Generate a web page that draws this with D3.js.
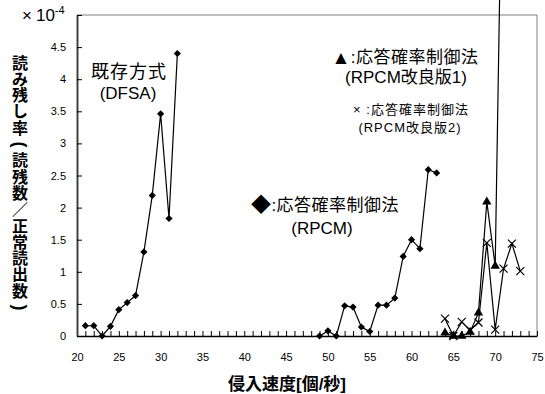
<!DOCTYPE html>
<html>
<head>
<meta charset="utf-8">
<script src="https://cdn.jsdelivr.net/npm/d3@7"></script>
<style>
  body { margin: 0; background: #fff; }
  svg { display: block; font-family: "Liberation Sans", "Noto Sans CJK JP", sans-serif; }
</style>
</head>
<body>
<svg id="chart"></svg>
<script>
// Read-out rate (x 10^-4) against intrusion speed
const dfsaSpeed = [21, 22, 23, 24, 25, 26, 27, 28, 29, 30, 31, 32];
const dfsaRate = [0.16, 0.16, 0, 0.15, 0.41, 0.52, 0.63, 1.31, 2.19, 3.46, 1.83, 4.40];

const rpcmSpeed = [49, 50, 51, 52, 53, 54, 55, 56, 57, 58, 59, 60, 61, 62, 63];
const rpcmRate = [0, 0.08, 0, 0.47, 0.45, 0.14, 0.07, 0.48, 0.48, 0.59, 1.24, 1.50, 1.36, 2.59, 2.54];

const v1Speed = [64, 65, 66, 67, 68, 69, 70, 71];
const v1Rate = [0.05, 0, 0, 0.06, 0.36, 2.09, 1.09, 9.0];

const v2Speed = [64, 65, 66, 67, 68, 69, 70, 71, 72, 73];
const v2Rate = [0.27, 0, 0.22, 0.09, 0.21, 1.45, 0.10, 1.05, 1.44, 1.01];

const xTickLabels = [20, 25, 30, 35, 40, 45, 50, 55, 60, 65, 70, 75];
const yTickLabels = [0, 0.5, 1, 1.5, 2, 2.5, 3, 3.5, 4, 4.5];

const yTitle = ["読", "み", "残", "し", "率", "(", "読", "残", "数", "／", "正", "常", "読", "出", "数", ")"];

class LineChart {
  constructor(_config) {
    this.config = {
      parentElement: _config.parentElement,
      containerWidth: _config.containerWidth || 545,
      containerHeight: _config.containerHeight || 394,
      margin: _config.margin || { top: 15, right: 8, bottom: 58, left: 77 },
    };
    this.initVis();
  }

  initVis() {
    let vis = this;
    const m = vis.config.margin;
    vis.width = vis.config.containerWidth - m.left - m.right;
    vis.height = vis.config.containerHeight - m.top - m.bottom;

    vis.svg = d3.select(vis.config.parentElement)
      .attr("width", vis.config.containerWidth)
      .attr("height", vis.config.containerHeight);

    vis.xScale = d3.scaleLinear().domain([20, 75]).range([0, vis.width]);
    vis.yScale = d3.scaleLinear().domain([0, 5]).range([vis.height, 0]);

    vis.chart = vis.svg.append("g")
      .attr("transform", `translate(${m.left},${m.top})`);

    // plot frame (top and right in grey)
    vis.chart.append("path")
      .attr("d", `M0,0H${vis.width}V${vis.height}`)
      .attr("fill", "none")
      .attr("stroke", "#808080")
      .attr("stroke-width", 1);
  }

  renderVis() {
    let vis = this;

    // x axis: a tick every unit, labels every 5
    const xAxis = d3.axisBottom(vis.xScale)
      .tickValues(d3.range(20, 76, 1))
      .tickSizeInner(-5)
      .tickSizeOuter(0)
      .tickPadding(17)
      .tickFormat(d => xTickLabels.includes(d) ? d : "");

    const xAxisG = vis.chart.append("g")
      .attr("transform", `translate(0,${vis.height})`)
      .call(xAxis);
    xAxisG.select(".domain").attr("stroke", "#000").attr("stroke-width", 1.5);
    xAxisG.selectAll(".tick line").attr("stroke", "#000");
    xAxisG.selectAll("text")
      .style("font-size", "11px")
      .attr("fill", "#000");

    const yAxis = d3.axisLeft(vis.yScale)
      .tickValues(yTickLabels.concat([5]))
      .tickSizeInner(-5)
      .tickSizeOuter(0)
      .tickPadding(11)
      .tickFormat(d => d === 5 ? "" : d);

    const yAxisG = vis.chart.append("g").call(yAxis);
    yAxisG.select(".domain").attr("stroke", "#404040").attr("stroke-width", 2);
    yAxisG.selectAll(".tick line").attr("stroke", "#000");
    yAxisG.selectAll("text")
      .style("font-size", "11px")
      .attr("fill", "#000");

    // exponent label at the top
    const expo = vis.svg.append("text")
      .attr("x", 22)
      .attr("y", 21)
      .style("font-size", "17px")
      .attr("fill", "#000");
    expo.append("tspan").text("×");
    expo.append("tspan").attr("dx", 4).text("10");
    expo.append("tspan").attr("dy", -7).style("font-size", "11px").text("-4");

    // series lines
    const line = d3.line()
      .x(d => vis.xScale(d[0]))
      .y(d => vis.yScale(d[1]));

    const series = [
      { speed: dfsaSpeed, rate: dfsaRate, marker: "diamond" },
      { speed: rpcmSpeed, rate: rpcmRate, marker: "diamond" },
      { speed: v1Speed, rate: v1Rate, marker: "triangle" },
      { speed: v2Speed, rate: v2Rate, marker: "cross" },
    ];

    series.forEach(s => {
      const pts = s.speed.map((x, i) => [x, s.rate[i]]);
      vis.chart.append("path")
        .attr("d", line(pts))
        .attr("fill", "none")
        .attr("stroke", "#000")
        .attr("stroke-width", 1.2);

      const g = vis.chart.append("g");
      pts.forEach(p => {
        const cx = vis.xScale(p[0]);
        const cy = vis.yScale(p[1]);
        if (s.marker === "diamond") {
          g.append("path")
            .attr("d", d3.symbol().type(d3.symbolSquare).size(26)())
            .attr("transform", `translate(${cx},${cy}) rotate(45)`)
            .attr("fill", "#000");
        } else if (s.marker === "triangle") {
          g.append("path")
            .attr("d", d3.symbol().type(d3.symbolTriangle).size(38)())
            .attr("transform", `translate(${cx},${cy})`)
            .attr("fill", "#000");
        } else {
          g.append("path")
            .attr("d", "M-4,-4L4,4M-4,4L4,-4")
            .attr("transform", `translate(${cx},${cy})`)
            .attr("stroke", "#000")
            .attr("stroke-width", 1.2);
        }
      });
    });

    // annotations
    const note = (x, y, txt, size, spacing) => vis.svg.append("text")
      .attr("x", x)
      .attr("y", y)
      .attr("text-anchor", "middle")
      .attr("dominant-baseline", "central")
      .style("font-size", size + "px")
      .style("letter-spacing", (spacing || 0) + "px")
      .attr("fill", "#000")
      .text(txt);

    note(129, 72, "既存方式", 18, 1);
    note(128, 93, "(DFSA)", 17);

    const rpcmNote = note(325, 205, "", 17, 0.5);
    rpcmNote.append("tspan").style("font-size", "20px").text("◆");
    rpcmNote.append("tspan").text(":応答確率制御法");
    note(322, 228, "(RPCM)", 17);

    const v1Note = note(405, 57, "", 17, 0.5);
    v1Note.append("tspan").style("font-size", "19px").text("▲");
    v1Note.append("tspan").text(":応答確率制御法");
    note(406, 77, "(RPCM改良版1)", 17);

    note(411, 109, "× :応答確率制御法", 13, 1);
    note(410, 127, "(RPCM改良版2)", 13, 1);

    // axis titles
    vis.svg.append("text")
      .attr("x", 287)
      .attr("y", 384)
      .attr("text-anchor", "middle")
      .attr("dominant-baseline", "central")
      .style("font-size", "17px")
      .style("font-weight", "bold")
      .attr("fill", "#000")
      .text("侵入速度[個/秒]");

    yTitle.forEach((ch, i) => {
      const cy = 63 + i * 16.3;
      const paren = ch === "(" || ch === ")";
      vis.svg.append("text")
        .attr("x", 0)
        .attr("y", 0)
        .attr("text-anchor", "middle")
        .attr("dominant-baseline", "central")
        .attr("transform", `translate(20,${cy})` + (paren ? " rotate(90)" : ""))
        .style("font-size", paren ? "18px" : "16px")
        .style("font-weight", "bold")
        .attr("fill", "#000")
        .text(ch);
    });
  }
}

const chart = new LineChart({ parentElement: "#chart" });
chart.renderVis();
</script>
</body>
</html>
